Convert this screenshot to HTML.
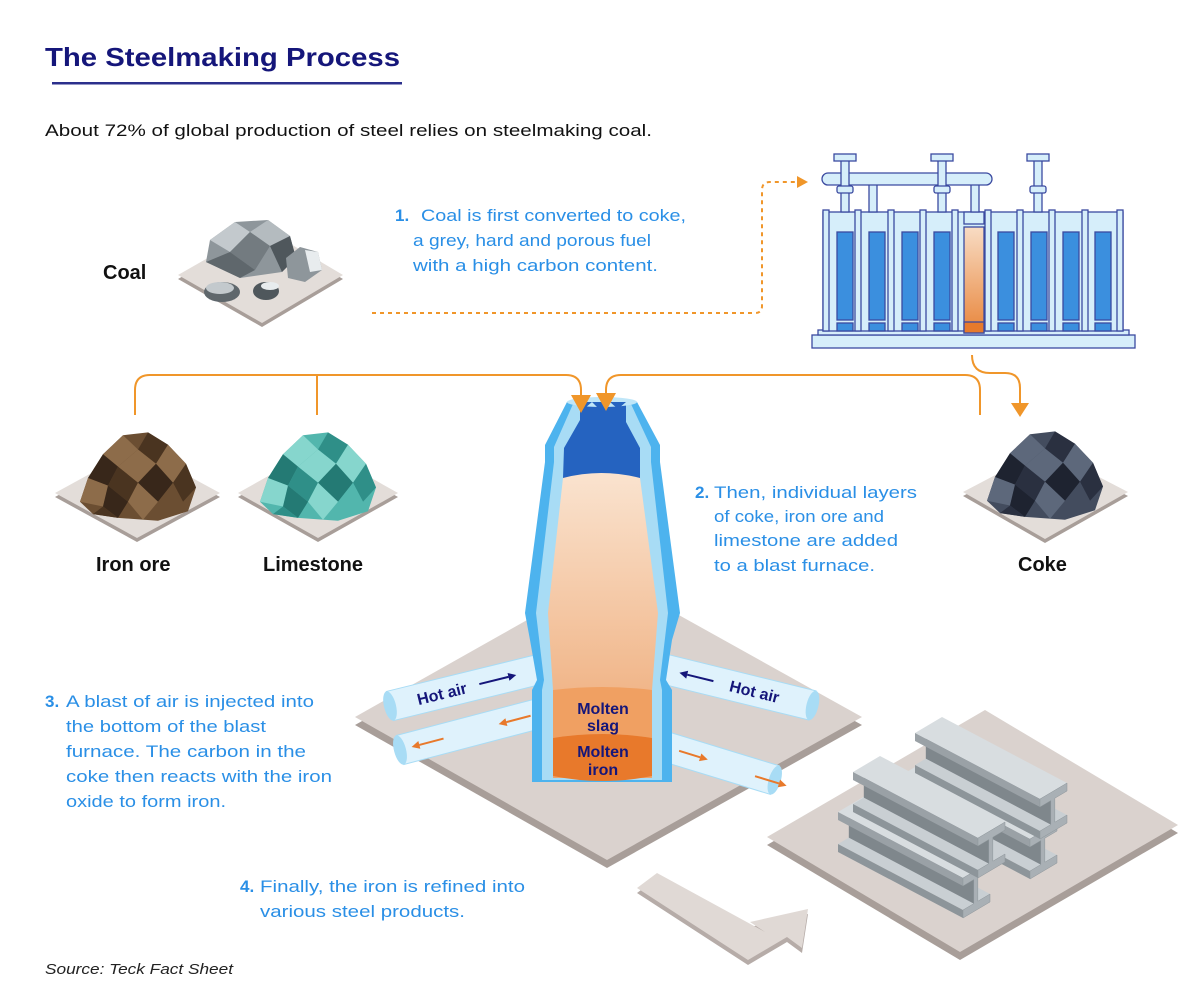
<!DOCTYPE html>
<html><head><meta charset="utf-8"><style>
html,body{margin:0;padding:0;background:#fff;}
svg{display:block;font-family:"Liberation Sans",Arial,sans-serif;}
.b{fill:#2a8fe6;font-size:17px;}
.bn{fill:#2a8fe6;font-size:17px;font-weight:bold;}
.lab{font-size:20px;font-weight:bold;fill:#111;}
.st{stroke:#3b4aa0;stroke-width:1.3;}
</style></head><body>
<svg width="1200" height="1006" viewBox="0 0 1200 1006" xmlns="http://www.w3.org/2000/svg">
<defs>
<linearGradient id="org" x1="0" y1="0" x2="0" y2="1"><stop offset="0" stop-color="#fae3cf"/><stop offset="1" stop-color="#eda46e"/></linearGradient>
<linearGradient id="org2" x1="0" y1="0" x2="0" y2="1"><stop offset="0" stop-color="#f8dcc4"/><stop offset="1" stop-color="#e8863c"/></linearGradient>
<g id="pile">
<polygon points="-58,25 -50,0 -35,-25 -15,-45 10,-48 30,-35 48,-15 58,10 50,35 20,45 -20,42 -45,38" style="fill:var(--c)"/>
<polygon points="-35,-25 -15,-45 0,-30 -20,-12" style="fill:var(--a)"/>
<polygon points="0,-30 10,-48 30,-35 18,-15" style="fill:var(--b)"/>
<polygon points="-50,0 -35,-25 -20,-12 -30,8" style="fill:var(--d)"/>
<polygon points="-20,-12 0,-30 18,-15 0,5" style="fill:var(--a)"/>
<polygon points="18,-15 30,-35 48,-15 35,5" style="fill:var(--a)"/>
<polygon points="-58,25 -50,0 -30,8 -35,30" style="fill:var(--a)"/>
<polygon points="-30,8 -20,-12 0,5 -10,25" style="fill:var(--b)"/>
<polygon points="0,5 18,-15 35,5 20,25" style="fill:var(--d)"/>
<polygon points="35,5 48,-15 58,10 45,25" style="fill:var(--b)"/>
<polygon points="-35,30 -30,8 -10,25 -20,42" style="fill:var(--d)"/>
<polygon points="-10,25 0,5 20,25 5,44" style="fill:var(--a)"/>
<polygon points="20,25 35,5 45,25 35,40" style="fill:var(--c)"/>
<polygon points="-45,38 -35,30 -20,42" style="fill:var(--b)"/>
</g>
<g id="beam">
<polygon points="0,32 27,16 152,82 125,98" fill="#c9cfd3"/>
<polygon points="10.8,1.6 135.8,67.6 135.8,91.6 10.8,25.6" fill="#7f878c"/>
<polygon points="0,32 125,98 125,106 0,40" fill="#8d959a"/>
<polygon points="0,0 27,-16 152,50 125,66" fill="#d8dde0"/>
<polygon points="0,0 125,66 125,74 0,8" fill="#9aa1a6"/>
<polygon points="125,66 152,50 152,58 139.85,65.2 139.85,89.2 152,82 152,90 125,106 125,98 135.8,91.6 135.8,67.6 125,74" fill="#a9b0b5" stroke="#8d959a" stroke-width="0.5"/>
</g>
</defs>

<!-- Title -->
<text x="45" y="66" font-size="26" font-weight="bold" fill="#15167a" textLength="355" lengthAdjust="spacingAndGlyphs">The Steelmaking Process</text>
<rect x="52" y="82" width="350" height="2.5" fill="#2b2f8c"/>
<text x="45" y="136" font-size="16.5" fill="#111" textLength="607" lengthAdjust="spacingAndGlyphs">About 72% of global production of steel relies on steelmaking coal.</text>

<!-- Coal -->
<text x="103" y="279" class="lab">Coal</text>
<polygon points="178,279 262,231 343,279 262,327" fill="#a89e99"/>
<polygon points="178,275 262,227 343,275 262,323" fill="#e3ddd9"/>
<polygon points="206,262 210,240 235,222 268,220 290,236 296,258 282,272 240,278" fill="#8e969b"/>
<polygon points="210,240 235,222 250,232 230,252" fill="#c3c9cd"/>
<polygon points="250,232 268,220 290,236 270,246" fill="#b4bbbf"/>
<polygon points="270,246 290,236 296,258 282,272" fill="#4f575c"/>
<polygon points="230,252 250,232 270,246 255,270" fill="#737b80"/>
<polygon points="206,262 230,252 255,270 240,278" fill="#5f676c"/>
<polygon points="286,258 300,247 318,252 322,270 305,282 288,278" fill="#8e969b"/>
<polygon points="305,250 318,252 322,270 310,272" fill="#e8ecee"/>
<ellipse cx="222" cy="292" rx="18" ry="10" fill="#5f676c"/>
<ellipse cx="220" cy="288" rx="14" ry="6" fill="#c3c9cd"/>
<ellipse cx="266" cy="291" rx="13" ry="9" fill="#4f575c"/>
<ellipse cx="270" cy="286" rx="9" ry="4" fill="#e8ecee"/>

<!-- Step 1 text -->
<text x="395" y="221" class="bn">1.</text>
<text x="421" y="221" class="b" textLength="265" lengthAdjust="spacingAndGlyphs">Coal is first converted to coke,</text>
<text x="413" y="246" class="b" textLength="238" lengthAdjust="spacingAndGlyphs">a grey, hard and porous fuel</text>
<text x="413" y="271" class="b" textLength="245" lengthAdjust="spacingAndGlyphs">with a high carbon content.</text>

<!-- dotted connector -->
<path d="M372,313 H755 Q762,313 762,306 V190 Q762,182 770,182 H797" fill="none" stroke="#f0962a" stroke-width="2" stroke-dasharray="4 4"/>
<polygon points="797,176 808,182 797,188" fill="#f0962a"/>

<!-- Coke oven -->
<g class="st">
<rect x="812" y="335" width="323" height="13" fill="#d6eefa"/>
<rect x="818" y="330" width="311" height="5" fill="#d6eefa"/>
<rect x="823" y="212" width="300" height="119" fill="#d6eefa"/>
<rect x="964" y="212" width="20" height="12" fill="#d6eefa"/>
<rect x="869" y="180" width="8" height="32" fill="#d6eefa"/>
<rect x="971" y="180" width="8" height="32" fill="#d6eefa"/>
<rect x="822" y="173" width="170" height="12" rx="6" fill="#d6eefa"/>
<rect x="841" y="158" width="8" height="54" fill="#d6eefa"/>
<rect x="938" y="158" width="8" height="54" fill="#d6eefa"/>
<rect x="1034" y="158" width="8" height="54" fill="#d6eefa"/>
<rect x="834" y="154" width="22" height="7" fill="#d6eefa"/>
<rect x="931" y="154" width="22" height="7" fill="#d6eefa"/>
<rect x="1027" y="154" width="22" height="7" fill="#d6eefa"/>
<rect x="837" y="186" width="16" height="7" rx="2" fill="#d6eefa"/>
<rect x="934" y="186" width="16" height="7" rx="2" fill="#d6eefa"/>
<rect x="1030" y="186" width="16" height="7" rx="2" fill="#d6eefa"/>
<rect x="823" y="210" width="6" height="121" fill="#d6eefa"/>
<rect x="855" y="210" width="6" height="121" fill="#d6eefa"/>
<rect x="888" y="210" width="6" height="121" fill="#d6eefa"/>
<rect x="920" y="210" width="6" height="121" fill="#d6eefa"/>
<rect x="952" y="210" width="6" height="121" fill="#d6eefa"/>
<rect x="985" y="210" width="6" height="121" fill="#d6eefa"/>
<rect x="1017" y="210" width="6" height="121" fill="#d6eefa"/>
<rect x="1049" y="210" width="6" height="121" fill="#d6eefa"/>
<rect x="1082" y="210" width="6" height="121" fill="#d6eefa"/>
<rect x="1117" y="210" width="6" height="121" fill="#d6eefa"/>
</g>
<g fill="#3b8fde" class="st">
<rect x="837" y="232" width="16" height="88"/><rect x="837" y="323" width="16" height="8"/>
<rect x="869" y="232" width="16" height="88"/><rect x="869" y="323" width="16" height="8"/>
<rect x="902" y="232" width="16" height="88"/><rect x="902" y="323" width="16" height="8"/>
<rect x="934" y="232" width="16" height="88"/><rect x="934" y="323" width="16" height="8"/>
<rect x="998" y="232" width="16" height="88"/><rect x="998" y="323" width="16" height="8"/>
<rect x="1031" y="232" width="16" height="88"/><rect x="1031" y="323" width="16" height="8"/>
<rect x="1063" y="232" width="16" height="88"/><rect x="1063" y="323" width="16" height="8"/>
<rect x="1095" y="232" width="16" height="88"/><rect x="1095" y="323" width="16" height="8"/>
</g>
<rect x="964" y="227" width="20" height="106" fill="url(#org2)" class="st"/>
<rect x="964" y="322" width="20" height="11" fill="#e67a2c" class="st"/>

<!-- orange connectors -->
<g fill="none" stroke="#f0962a" stroke-width="2">
<path d="M135,415 V390 Q135,375 150,375 H566 Q581,375 581,390 V398"/>
<path d="M317,375 V415"/>
<path d="M980,415 V390 Q980,375 965,375 H621 Q606,375 606,390 V396"/>
<path d="M972,355 Q972,373 990,373 H1005 Q1020,373 1020,388 V404"/>
</g>

<!-- Iron ore, limestone, coke tiles -->
<polygon points="55,497 137,452 220,497 137,542" fill="#a89e99"/>
<polygon points="55,493 137,448 220,493 137,538" fill="#e3ddd9"/>
<use href="#pile" transform="translate(138,478) scale(1,0.95)" style="--a:#8d6c4a;--b:#4a3420;--c:#6b4e32;--d:#38271a"/>
<polygon points="238,497 318,452 398,497 318,542" fill="#a89e99"/>
<polygon points="238,493 318,448 398,493 318,538" fill="#e3ddd9"/>
<use href="#pile" transform="translate(318,478) scale(1,0.95)" style="--a:#86d6cd;--b:#2f8f88;--c:#52b6ad;--d:#247a74"/>
<polygon points="963,496 1045,453 1128,496 1045,543" fill="#a89e99"/>
<polygon points="963,492 1045,449 1128,492 1045,539" fill="#e3ddd9"/>
<use href="#pile" transform="translate(1045,477) scale(1,0.95)" style="--a:#5d687b;--b:#2a3040;--c:#434c5e;--d:#1e2330"/>

<text x="96" y="571" class="lab">Iron ore</text>
<text x="263" y="571" class="lab">Limestone</text>
<text x="1018" y="571" class="lab">Coke</text>

<!-- Step 2 -->
<text x="695" y="498" class="bn">2.</text>
<text x="714" y="498" class="b" textLength="203" lengthAdjust="spacingAndGlyphs">Then, individual layers</text>
<text x="714" y="522" class="b" textLength="170" lengthAdjust="spacingAndGlyphs">of coke, iron ore and</text>
<text x="714" y="546" class="b" textLength="184" lengthAdjust="spacingAndGlyphs">limestone are added</text>
<text x="714" y="571" class="b" textLength="161" lengthAdjust="spacingAndGlyphs">to a blast furnace.</text>

<!-- furnace platform -->
<polygon points="355,725 607,583 862,725 607,868" fill="#a89e99"/>
<polygon points="355,717 607,575 862,717 607,860" fill="#dad2ce"/>

<!-- pipes -->
<g transform="translate(390,706) rotate(-13.8)">
<rect x="0" y="-15" width="162" height="30" fill="#dff2fc" stroke="#a8dcf5"/>
<ellipse cx="0" cy="0" rx="6" ry="15" fill="#a8dcf5"/>
<text x="28" y="6" font-size="16" font-weight="bold" fill="#15167a">Hot air</text>
<line x1="92" y1="0" x2="122" y2="0" stroke="#15167a" stroke-width="2"/>
<polygon points="122,-4 130,0 122,4" fill="#15167a"/>
</g>
<g transform="translate(400,750) rotate(-14.7)">
<rect x="0" y="-15" width="152" height="30" fill="#dff2fc" stroke="#a8dcf5"/>
<ellipse cx="0" cy="0" rx="6" ry="15" fill="#a8dcf5"/>
<line x1="20" y1="0" x2="45" y2="0" stroke="#e8792b" stroke-width="2"/>
<polygon points="20,-4 12,0 20,4" fill="#e8792b"/>
<line x1="110" y1="0" x2="135" y2="0" stroke="#e8792b" stroke-width="2"/>
<polygon points="110,-4 102,0 110,4" fill="#e8792b"/>
</g>
<g transform="translate(660,668) rotate(13.8)">
<rect x="0" y="-15" width="157" height="30" fill="#dff2fc" stroke="#a8dcf5"/>
<ellipse cx="157" cy="0" rx="6" ry="15" fill="#a8dcf5"/>
<text x="72" y="6" font-size="16" font-weight="bold" fill="#15167a">Hot air</text>
<line x1="28" y1="0" x2="55" y2="0" stroke="#15167a" stroke-width="2"/>
<polygon points="28,-4 20,0 28,4" fill="#15167a"/>
</g>
<g transform="translate(660,745) rotate(17)">
<rect x="0" y="-15" width="120" height="30" fill="#dff2fc" stroke="#a8dcf5"/>
<ellipse cx="120" cy="0" rx="6" ry="15" fill="#a8dcf5"/>
<line x1="20" y1="0" x2="42" y2="0" stroke="#e8792b" stroke-width="2"/>
<polygon points="42,-4 50,0 42,4" fill="#e8792b"/>
<line x1="100" y1="2" x2="125" y2="2" stroke="#e8792b" stroke-width="2"/>
<polygon points="125,-2 133,2 125,6" fill="#e8792b"/>
</g>

<!-- furnace -->
<path d="M567,402 L545,445 L545,462 L525,613 L530,640 L537,680 L532,690 L532,782 L672,782 L672,690 L666,680 L672,640 L680,613 L660,462 L660,445 L637,402 Z" fill="#4db3ee"/>
<path d="M573,404 L554,447 L554,462 L536,613 L544,680 L542,690 L542,780 L662,780 L662,690 L660,680 L668,613 L651,462 L651,447 L631,404 Z" fill="#a8dcf5"/>
<path d="M580,402 L580,420 L564,448 L563,478 L640,478 L640,448 L626,422 L626,402 Z" fill="#2563c0"/>
<path d="M563,478 Q601,468 640,478 L658,613 L652,690 L652,778 L553,778 L553,690 L548,613 Z" fill="url(#org)"/>
<path d="M553,690 Q602,684 652,690 L652,738 Q602,730 553,738 Z" fill="#f0a062"/>
<path d="M553,738 Q602,730 652,738 L652,776 Q602,786 553,776 Z" fill="#e8792b"/>
<ellipse cx="602" cy="402" rx="35" ry="5" fill="#bfe6f8"/>
<path d="M580,402 L585,408 L592,402 L600,410 L610,402 L618,409 L626,402" fill="#2563c0"/>
<g font-size="16" font-weight="bold" fill="#15167a" text-anchor="middle">
<text x="603" y="714">Molten</text><text x="603" y="731">slag</text>
<text x="603" y="757">Molten</text><text x="603" y="775">iron</text>
</g>
<!-- arrowheads into furnace -->
<polygon points="571,395 591,395 581,413" fill="#f0962a"/>
<polygon points="596,393 616,393 606,411" fill="#f0962a"/>
<polygon points="1011,403 1029,403 1020,417" fill="#f0962a"/>

<!-- Step 3 -->
<text x="45" y="707" class="bn">3.</text>
<text x="66" y="707" class="b" textLength="248" lengthAdjust="spacingAndGlyphs">A blast of air is injected into</text>
<text x="66" y="732" class="b" textLength="200" lengthAdjust="spacingAndGlyphs">the bottom of the blast</text>
<text x="66" y="757" class="b" textLength="240" lengthAdjust="spacingAndGlyphs">furnace. The carbon in the</text>
<text x="66" y="782" class="b" textLength="266" lengthAdjust="spacingAndGlyphs">coke then reacts with the iron</text>
<text x="66" y="807" class="b" textLength="160" lengthAdjust="spacingAndGlyphs">oxide to form iron.</text>

<!-- beams platform -->
<polygon points="767,845 985,718 1178,833 960,960" fill="#a89e99"/>
<polygon points="767,837 985,710 1178,825 960,952" fill="#dad2ce"/>
<use href="#beam" transform="translate(905,773)"/>
<use href="#beam" transform="translate(915,733)"/>
<use href="#beam" transform="translate(838,812)"/>
<use href="#beam" transform="translate(853,772)"/>

<!-- grey arrow -->
<polygon points="637,893 657,878 765,937 750,927 808,914 802,953 787,942 748,965" fill="#b6aca8"/>
<polygon points="637,888 657,873 765,932 750,922 808,909 802,948 787,937 748,960" fill="#e0d9d5"/>

<!-- Step 4 -->
<text x="240" y="892" class="bn">4.</text>
<text x="260" y="892" class="b" textLength="265" lengthAdjust="spacingAndGlyphs">Finally, the iron is refined into</text>
<text x="260" y="917" class="b" textLength="205" lengthAdjust="spacingAndGlyphs">various steel products.</text>

<text x="45" y="974" font-size="15" font-style="italic" fill="#222" textLength="188" lengthAdjust="spacingAndGlyphs">Source: Teck Fact Sheet</text>
</svg>
</body></html>
